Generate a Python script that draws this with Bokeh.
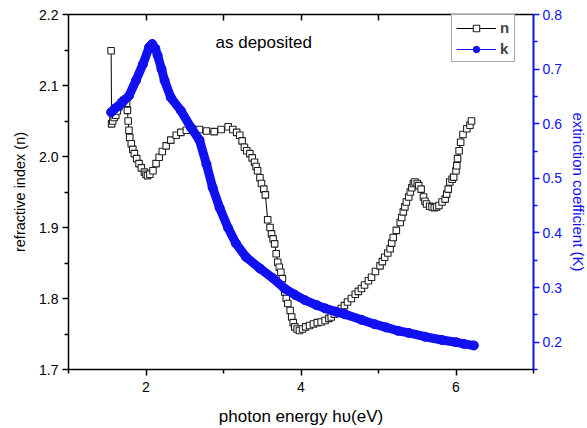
from bokeh.plotting import figure
from bokeh.models import (LinearAxis, Range1d, FixedTicker, Legend, LegendItem, Label,
                          PrintfTickFormatter)
from bokeh.embed import file_html
from bokeh.resources import INLINE

# ---- data ----
n_energy = [1.550, 1.556, 1.57, 1.59, 1.61, 1.63, 1.65, 1.68, 1.71, 1.74, 1.75, 1.76, 1.77, 1.78,
            1.79, 1.81, 1.83, 1.85, 1.88, 1.91, 1.94, 1.98, 2.00, 2.02, 2.05, 2.09, 2.13, 2.17,
            2.21, 2.26, 2.32, 2.39, 2.45, 2.52, 2.60, 2.69, 2.78, 2.88, 2.97, 3.06, 3.12, 3.17,
            3.21, 3.24, 3.27, 3.30, 3.34, 3.37, 3.40, 3.42, 3.44, 3.47, 3.49, 3.52, 3.54, 3.57,
            3.60, 3.62, 3.64, 3.66, 3.68, 3.70, 3.72, 3.74, 3.76, 3.79, 3.81, 3.83, 3.86, 3.88,
            3.90, 3.92, 3.95, 3.98, 4.02, 4.06, 4.11, 4.16, 4.21, 4.26, 4.31, 4.36, 4.39, 4.43,
            4.48, 4.52, 4.56, 4.60, 4.65, 4.70, 4.74, 4.78, 4.82, 4.87, 4.91, 4.96, 5.02, 5.05,
            5.08, 5.12, 5.15, 5.17, 5.19, 5.23, 5.28, 5.30, 5.32, 5.34, 5.36, 5.39, 5.41, 5.43,
            5.45, 5.47, 5.50, 5.52, 5.55, 5.58, 5.60, 5.62, 5.66, 5.69, 5.72, 5.75, 5.78, 5.82,
            5.86, 5.88, 5.90, 5.92, 5.95, 5.97, 6.00, 6.01, 6.02, 6.04, 6.06, 6.09, 6.14, 6.18,
            6.20]
n_values = [2.149, 2.046, 2.050, 2.055, 2.058, 2.064, 2.070, 2.076, 2.079, 2.081, 2.075, 2.065,
            2.050, 2.037, 2.027, 2.018, 2.010, 2.004, 1.997, 1.990, 1.984, 1.978, 1.975, 1.973,
            1.975, 1.980, 1.990, 1.999, 2.007, 2.015, 2.023, 2.030, 2.034, 2.037, 2.038, 2.038,
            2.036, 2.035, 2.038, 2.042, 2.038, 2.034, 2.030, 2.022, 2.013, 2.008, 2.004, 1.998,
            1.992, 1.986, 1.980, 1.970, 1.962, 1.954, 1.946, 1.911, 1.900, 1.891, 1.884, 1.877,
            1.863, 1.851, 1.844, 1.837, 1.828, 1.809, 1.800, 1.793, 1.783, 1.774, 1.766, 1.760,
            1.757, 1.755, 1.757, 1.760, 1.762, 1.764, 1.766, 1.767, 1.769, 1.772, 1.774, 1.778,
            1.782, 1.786, 1.790, 1.795, 1.800, 1.806, 1.810, 1.814, 1.819, 1.825, 1.830, 1.838,
            1.846, 1.852, 1.858, 1.864, 1.870, 1.878, 1.886, 1.896, 1.907, 1.914, 1.922, 1.929,
            1.936, 1.943, 1.950, 1.956, 1.962, 1.964, 1.962, 1.959, 1.954, 1.943, 1.937, 1.933,
            1.930, 1.929, 1.928, 1.929, 1.931, 1.936, 1.940, 1.947, 1.954, 1.964, 1.968, 1.971,
            1.980, 1.987, 1.997, 2.008, 2.020, 2.031, 2.039, 2.044, 2.050]

k_energy = [1.55, 1.60, 1.65, 1.70, 1.78, 1.87, 1.96, 2.04, 2.08, 2.12, 2.15, 2.20, 2.24, 2.32,
            2.45, 2.58, 2.69, 2.78, 2.86, 2.95, 3.06, 3.16, 3.29, 3.47, 3.64, 3.79, 3.92, 4.05,
            4.20, 4.31, 4.45, 4.57, 4.78, 4.95, 5.10, 5.25, 5.39, 5.60, 5.82, 6.00, 6.10, 6.23]
k_values = [0.621, 0.628, 0.633, 0.640, 0.651, 0.679, 0.709, 0.740, 0.746, 0.738, 0.725, 0.700,
            0.679, 0.648, 0.624, 0.593, 0.570, 0.526, 0.483, 0.446, 0.409, 0.381, 0.356, 0.335,
            0.317, 0.298, 0.287, 0.277, 0.268, 0.262, 0.256, 0.251, 0.241, 0.233, 0.227, 0.221,
            0.217, 0.210, 0.204, 0.200, 0.197, 0.194]

x_major = [2, 4, 6]
x_minor = [1, 3, 5, 7]
n_major = [1.7, 1.8, 1.9, 2.0, 2.1, 2.2]
n_minor = [1.75, 1.85, 1.95, 2.05, 2.15]
k_major = [0.2, 0.3, 0.4, 0.5, 0.6, 0.7, 0.8]
k_minor = [0.15, 0.25, 0.35, 0.45, 0.55, 0.65, 0.75]

FONT = "Liberation Sans"
BLUE = "#1010f0"

p = figure(frame_width=465, frame_height=355, output_backend="svg", toolbar_location=None,
           x_range=Range1d(1, 7), y_range=Range1d(1.7, 2.2),
           min_border_left=68, min_border_right=30, min_border_top=14, min_border_bottom=40,
           background_fill_color="white", border_fill_color="white")
p.outline_line_color = None
p.grid.visible = False
p.extra_y_ranges = {"k": Range1d(0.15, 0.8)}

# bottom axis
xa = p.xaxis[0]
xa.ticker = FixedTicker(ticks=x_major, minor_ticks=x_minor)
xa.axis_label = "photon energy h\u03c5(eV)"
# left axis
ya = p.yaxis[0]
ya.ticker = FixedTicker(ticks=n_major, minor_ticks=n_minor)
ya.formatter = PrintfTickFormatter(format="%.1f")
ya.axis_label = "refractive index (n)"

for ax in (xa, ya):
    ax.axis_line_width = 1.5
    ax.axis_line_color = "black"
    ax.major_tick_line_color = "black"
    ax.minor_tick_line_color = "black"
    ax.major_tick_line_width = 1.5
    ax.minor_tick_line_width = 1.5
    ax.major_tick_in = 0
    ax.major_tick_out = 6
    ax.minor_tick_in = 0
    ax.minor_tick_out = 4
    ax.major_label_text_font = FONT
    ax.major_label_text_font_size = "14px"
    ax.major_label_text_color = "black"
    ax.axis_label_text_font = FONT
    ax.axis_label_text_font_style = "normal"
    ax.axis_label_text_color = "black"
xa.axis_label_text_font_size = "17px"
ya.axis_label_text_font_size = "14.5px"
xa.major_label_standoff = 6
xa.axis_label_standoff = 12
ya.major_label_standoff = 4
ya.axis_label_standoff = 8

# top axis (ticks only)
top = LinearAxis(ticker=FixedTicker(ticks=[2, 3, 4, 5, 6], minor_ticks=[]),
                 major_label_text_font_size="0px", axis_line_width=1.5,
                 major_tick_in=6, major_tick_out=0, major_tick_line_width=1.5)
top.major_label_text_alpha = 0
p.add_layout(top, "above")

# right axis (blue)
ra = LinearAxis(y_range_name="k", ticker=FixedTicker(ticks=k_major, minor_ticks=k_minor),
                axis_label="extinction coefficient (K)")
ra.formatter = PrintfTickFormatter(format="%.1f")
ra.axis_line_color = BLUE
ra.axis_line_width = 2
ra.major_tick_line_color = BLUE
ra.minor_tick_line_color = BLUE
ra.major_tick_line_width = 1.5
ra.minor_tick_line_width = 1.5
ra.major_tick_in = 0
ra.major_tick_out = 6
ra.minor_tick_in = 0
ra.minor_tick_out = 4
ra.major_label_text_color = BLUE
ra.major_label_text_font = FONT
ra.major_label_text_font_size = "14px"
ra.major_label_standoff = 3
ra.axis_label_text_color = BLUE
ra.axis_label_text_font = FONT
ra.axis_label_text_font_size = "15px"
ra.axis_label_text_font_style = "normal"
ra.axis_label_standoff = 5
p.add_layout(ra, "right")

# n series
n_line = p.line(n_energy, n_values, line_color="black", line_width=1)
n_sc = p.scatter(n_energy, n_values, marker="square", size=6.5, fill_color="white",
                 line_color="#222222", line_width=1.1)

# k series
k_thick = p.line(k_energy, k_values, y_range_name="k", line_color=BLUE, line_width=9,
                 line_join="round", line_cap="round")
k_line = p.line(k_energy, k_values, y_range_name="k", line_color=BLUE, line_width=1)
k_sc = p.scatter(k_energy, k_values, y_range_name="k", marker="circle", size=9,
                 fill_color=BLUE, line_color=BLUE)

legend = Legend(items=[LegendItem(label="n", renderers=[n_line, n_sc]),
                       LegendItem(label="k", renderers=[k_line, k_sc])],
                location=(383, 307), orientation="vertical",
                glyph_width=40, glyph_height=16, label_height=16, label_width=10,
                label_standoff=4, padding=4, spacing=4, margin=0,
                label_text_font=FONT, label_text_font_size="15px", label_text_font_style="bold",
                border_line_color="#555555", border_line_width=1,
                background_fill_color="white", background_fill_alpha=1)
p.add_layout(legend)

p.add_layout(Label(x=147, y=327, x_units="screen", y_units="screen", text="as deposited",
                   text_font=FONT, text_font_size="17px", text_color="black",
                   text_baseline="middle"))

open("out.html", "w").write(file_html(p, INLINE))
